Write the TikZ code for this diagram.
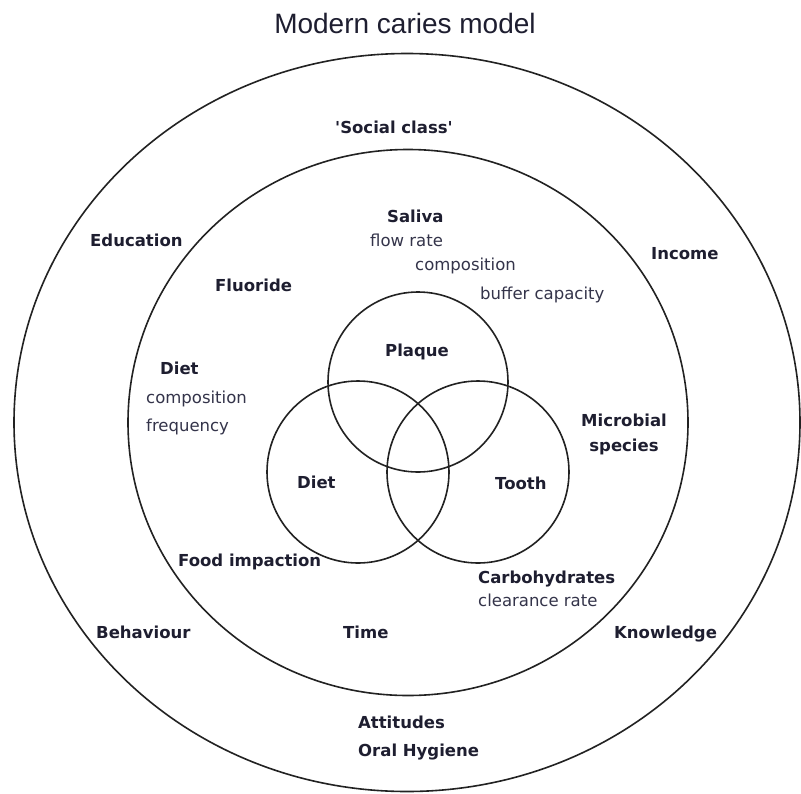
\documentclass[tikz,border=0pt]{standalone}
\usepackage{fontspec}
\setmainfont{DejaVu Sans}
\newfontfamily\titlefont{Liberation Sans}
\definecolor{labc}{HTML}{1E1E30}
\definecolor{subc}{HTML}{34344A}
\definecolor{ringc}{HTML}{222222}
\begin{document}
\begin{tikzpicture}[x=1pt,y=-1pt,
  mainlab/.style={font=\bfseries\fontsize{16.5}{18}\selectfont, text=labc, inner sep=0pt, anchor=base west},
  sublab/.style={font=\fontsize{16.5}{18}\selectfont, text=subc, inner sep=0pt, anchor=base west},
  ring/.style={draw=ringc, line width=1.6pt}]
\useasboundingbox (0,0) rectangle (801,793);
\fill[white] (0,0) rectangle (801,793);

% circles
\draw[ring] (407,422.5) ellipse [x radius=393, y radius=369];
\draw[ring] (408,422.5) ellipse [x radius=280, y radius=273];
\draw[ring] (418,382) circle [radius=90];
\draw[ring] (358,472) circle [radius=91];
\draw[ring] (478,472) circle [radius=91];

% title
\node[font=\titlefont\fontsize{28}{30}\selectfont, text=labc, inner sep=0pt, anchor=base] (title) at (405,33) {Modern caries model};

% outer ring
\node[mainlab] (social) at (335,133) {\textquotesingle Social class\textquotesingle};
\node[mainlab] (edu) at (90,246) {Education};
\node[mainlab] (income) at (651,259) {Income};
\node[mainlab] (behav) at (96,638) {Behaviour};
\node[mainlab] (know) at (614,638) {Knowledge};
\node[mainlab] (att) at (358,728) {Attitudes};
\node[mainlab] (oral) at (358,756) {Oral Hygiene};

% inner ring
\node[mainlab] (saliva) at (387,222) {Saliva};
\node[sublab] (flow) at (370,246) {flow rate};
\node[sublab] (scomp) at (415,270) {composition};
\node[sublab] (buffer) at (480,299) {buffer capacity};
\node[mainlab] (fluor) at (215,291) {Fluoride};
\node[mainlab] (diet1) at (160,374) {Diet};
\node[sublab] (dcomp) at (146,403) {composition};
\node[sublab] (freq) at (146,431) {frequency};
\node[mainlab, anchor=base] (micro) at (624,426) {Microbial};
\node[mainlab, anchor=base] (species) at (624,451) {species};
\node[mainlab] (food) at (178,566) {Food impaction};
\node[mainlab] (carb) at (478,583) {Carbohydrates};
\node[sublab] (clear) at (478,606) {clearance rate};
\node[mainlab] (time) at (343,638) {Time};

% venn
\node[mainlab] (plaque) at (385,356) {Plaque};
\node[mainlab] (diet2) at (297,488) {Diet};
\node[mainlab] (tooth) at (495,489) {Tooth};
\end{tikzpicture}
\end{document}
